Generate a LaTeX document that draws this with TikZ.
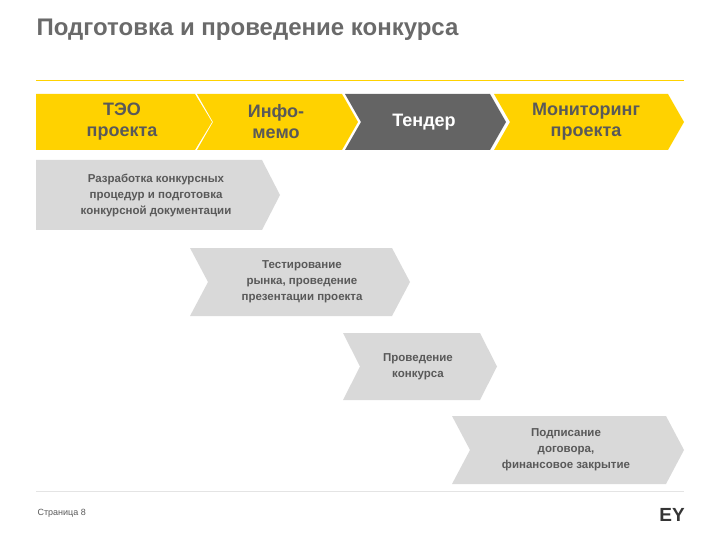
\documentclass[tikz,border=0pt]{standalone}
\usepackage{fontspec}
\setmainfont{Liberation Sans}
\definecolor{eyyellow}{HTML}{FFD200}
\definecolor{eydark}{HTML}{646464}
\definecolor{eytext}{HTML}{595959}
\definecolor{eylight}{HTML}{D9D9D9}
\newcommand{\chevron}[6]{% x0, x1, y0, y1, depth, fill
  \fill[#6] (#1,#3) -- (#2,#3) -- ({#2+#5},{(#3+#4)/2}) -- (#2,#4) -- (#1,#4)
    -- ({#1+#5},{(#3+#4)/2}) -- cycle;}
\begin{document}
\begin{tikzpicture}[x=1pt,y=-1pt,
  stage/.style={font=\bfseries\fontsize{18}{21}\selectfont, text=eytext, align=center},
  step text/.style={font=\bfseries\fontsize{11.5}{16}\selectfont, text=eytext, align=center}]
\useasboundingbox (0,0) rectangle (720,540);

\node[anchor=west, font=\bfseries\fontsize{24}{26}\selectfont, text=eytext!90] (title) at (33,30) {Подготовка и проведение конкурса};
\draw[eyyellow, line width=1pt] (36,81) -- (684,81);

\fill[eyyellow] (36,94) -- (195,94) -- (212,122) -- (195,150) -- (36,150) -- cycle;
\chevron{197}{342}{94}{150}{16}{eyyellow}
\chevron{345}{490}{94}{150}{16}{eydark}
\chevron{494}{668}{94}{150}{16}{eyyellow}
\node[stage] (teo) at (122,122) {ТЭО\\проекта};
\node[stage] (info) at (276,122) {Инфо-\\мемо};
\node[stage, text=white] (tender) at (424,122) {Тендер};
\node[stage] (monitor) at (586,122) {Мониторинг\\проекта};

\fill[eylight] (36,160) -- (262,160) -- (280,195) -- (262,230) -- (36,230) -- cycle;
\chevron{190}{392}{248}{316}{18}{eylight}
\chevron{343}{480}{333}{400}{17}{eylight}
\chevron{452}{666}{416}{484}{18}{eylight}
\node[step text] (dev) at (156,195) {Разработка конкурсных\\процедур и подготовка\\конкурсной документации};
\node[step text] (test) at (302,282) {Тестирование\\рынка, проведение\\презентации проекта};
\node[step text] (conduct) at (418,367) {Проведение\\конкурса};
\node[step text] (sign) at (566,450) {Подписание\\договора,\\финансовое закрытие};

\draw[eylight!70, line width=0.6pt] (36,491) -- (684,491);
\node[anchor=west, font=\fontsize{9}{10}\selectfont, text=eytext] (page) at (34,513) {Страница 8};
\node[anchor=east, font=\bfseries\fontsize{19}{20}\selectfont, text=eytext!60!black, inner sep=0pt] (logo) at (685,515) {EY};
\end{tikzpicture}
\end{document}
